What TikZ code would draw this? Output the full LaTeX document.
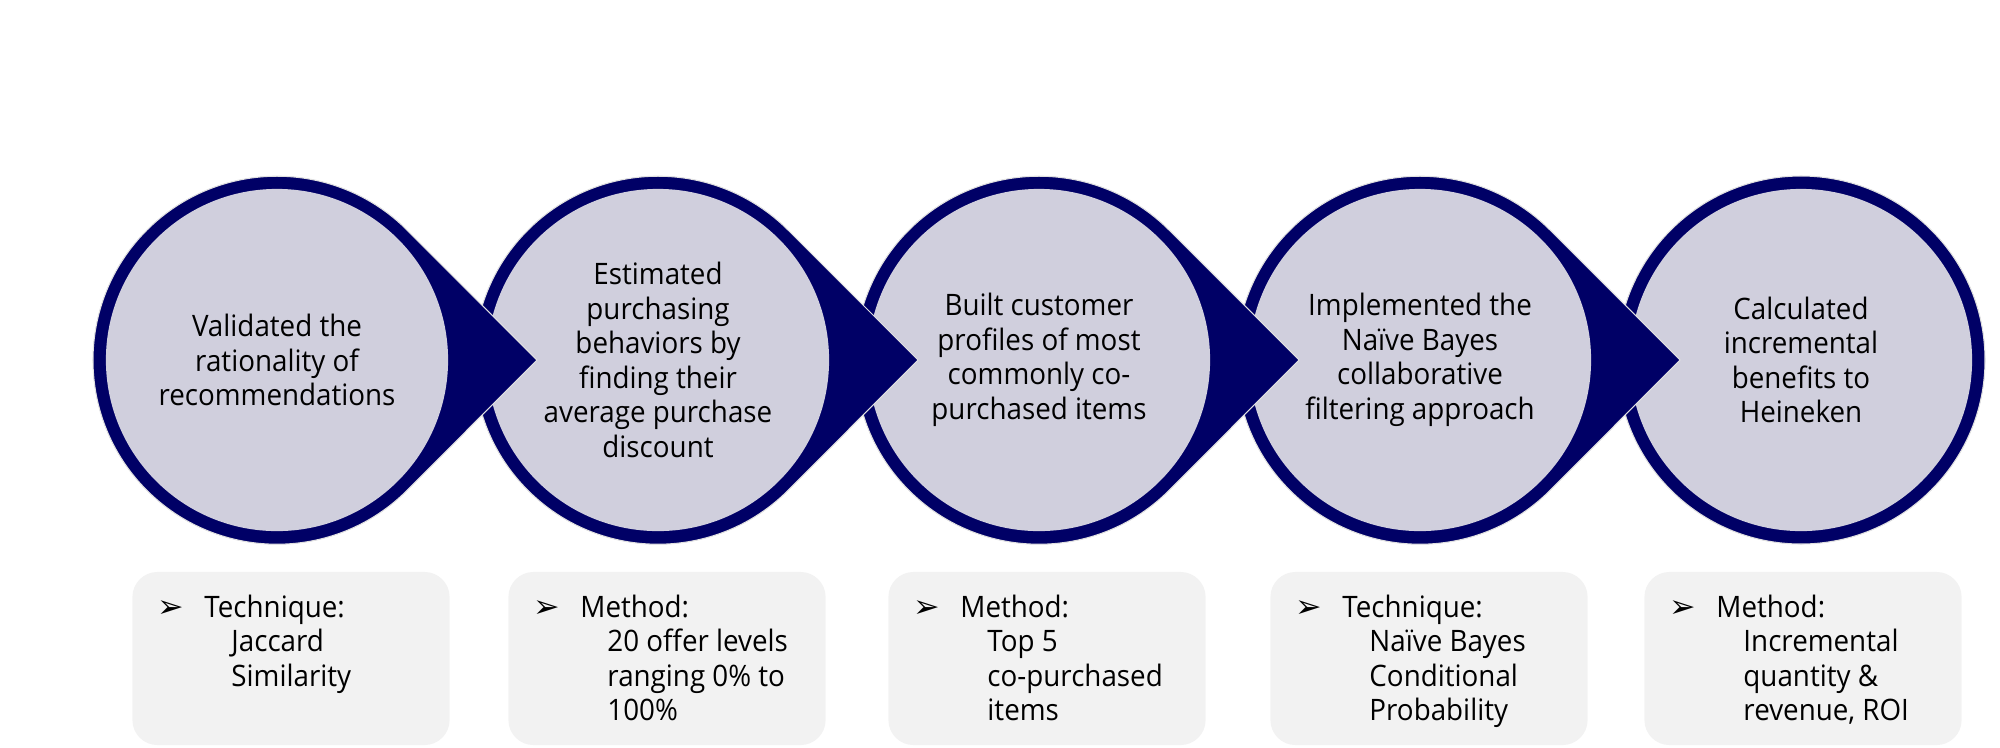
\documentclass[tikz,border=0pt]{standalone}
\usepackage{fontspec}
\setmainfont[FakeStretch=0.94]{Open Sans}
\newfontfamily\symfont{DejaVu Sans}
\definecolor{navy}{HTML}{000066}
\definecolor{lavender}{HTML}{D0CFDD}
\definecolor{cardgray}{HTML}{F2F2F2}
\newcommand{\bul}[1]{\makebox[0.47cm][l]{\symfont\fontsize{9}{6}\selectfont ➢}#1}
\newcommand{\ind}{\hspace*{0.74cm}}
\begin{document}
\begin{tikzpicture}[x=0.01cm, y=0.01cm]
\tikzset{every node/.style={font=\fontsize{8.4}{9.8}\selectfont, align=center}}
\tikzset{tear/.style={fill=navy, draw=black!12, line width=0.3pt}}
\tikzset{disc/.style={circle, fill=lavender, minimum size=3.42cm, inner sep=0pt}}
\tikzset{card/.style={rounded corners=0.25cm, fill=cardgray, minimum width=3.17cm, minimum height=1.73cm}}
\tikzset{note/.style={anchor=north west, align=left, inner sep=0pt}}
\useasboundingbox (0,0) rectangle (2000,747);

\filldraw[tear] (1801,387) circle[radius=184];
\node[disc] (c5) at (1801,387) {Calculated\\incremental\\benefits to\\Heineken};
\filldraw[tear] (1420,387) ++(260,0) -- ++(-129.9,129.9) arc[start angle=45, end angle=315, radius=184] -- cycle;
\node[disc] (c4) at (1420,387) {Implemented the\\Naïve Bayes\\collaborative\\filtering approach};
\filldraw[tear] (1039,387) ++(260,0) -- ++(-129.9,129.9) arc[start angle=45, end angle=315, radius=184] -- cycle;
\node[disc] (c3) at (1039,387) {Built customer\\profiles of most\\commonly co-\\purchased items};
\filldraw[tear] (658,387) ++(260,0) -- ++(-129.9,129.9) arc[start angle=45, end angle=315, radius=184] -- cycle;
\node[disc] (c2) at (658,387) {Estimated\\purchasing\\behaviors by\\finding their\\average purchase\\discount};
\filldraw[tear] (277,387) ++(260,0) -- ++(-129.9,129.9) arc[start angle=45, end angle=315, radius=184] -- cycle;
\node[disc] (c1) at (277,387) {Validated the\\rationality of\\recommendations};

\node[card] (b1) at (291,88.5) {};
\node[card] (b2) at (667,88.5) {};
\node[card] (b3) at (1047,88.5) {};
\node[card] (b4) at (1429,88.5) {};
\node[card] (b5) at (1803,88.5) {};

\node[note] (n1) at ([shift={(25,-23)}]b1.north west) {\bul{Technique:}\\\ind Jaccard\\\ind Similarity};
\node[note] (n2) at ([shift={(25,-23)}]b2.north west) {\bul{Method:}\\\ind 20 offer levels\\\ind ranging 0\% to\\\ind 100\%};
\node[note] (n3) at ([shift={(25,-23)}]b3.north west) {\bul{Method:}\\\ind Top 5\\\ind co-purchased\\\ind items};
\node[note] (n4) at ([shift={(25,-23)}]b4.north west) {\bul{Technique:}\\\ind Naïve Bayes\\\ind Conditional\\\ind Probability};
\node[note] (n5) at ([shift={(25,-23)}]b5.north west) {\bul{Method:}\\\ind Incremental\\\ind quantity \&\\\ind revenue, ROI};

\end{tikzpicture}
\end{document}
